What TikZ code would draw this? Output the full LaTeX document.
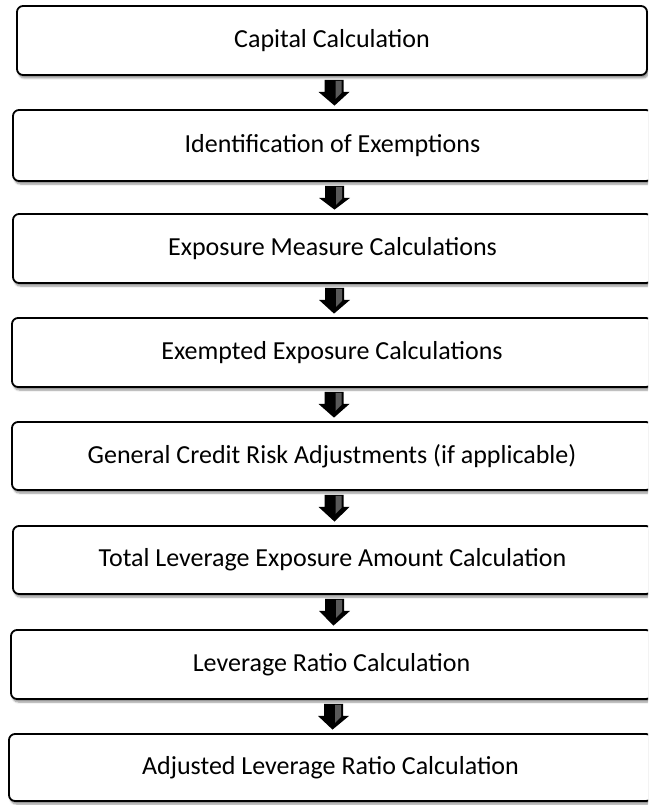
\documentclass[tikz,border=0pt]{standalone}
\usepackage{fontspec}
\setmainfont{Carlito}
\usetikzlibrary{calc,shadows.blur}
\tikzset{
  stepbox/.style={draw=black, line width=1.8pt, rounded corners=6pt, fill=white,
    blur shadow={shadow xshift=1.5pt, shadow yshift=-3pt, shadow blur steps=6, shadow opacity=45},
    inner sep=0pt, font=\fontsize{26}{31}\selectfont, text=black},
  flowarrow/.style={fill=black},
  arrowshine/.style={fill=gray!60, opacity=0.5}
}
\newcommand{\blockarrow}[2]{%
  \coordinate (#1t) at ($(#1.south)+(2,4)$);
  \coordinate (#2t) at ($(#2.north)+(2,-3.5)$);
  \path[flowarrow] ($(#1t)+(-9.5,0)$) -- ($(#1t)+(9.5,0)$) -- ($(#1t)+(9.5,12)$) -- ($(#1t)+(15.5,12)$) -- (#2t) -- ($(#1t)+(-15.5,12)$) -- ($(#1t)+(-9.5,12)$) -- cycle;
  \path[arrowshine] ($(#1t)+(1.5,1)$) -- ($(#1t)+(7.5,1)$) -- ($(#1t)+(7.5,13)$) -- ($(#1t)+(1.5,19)$) -- cycle;
}
\begin{document}
\begin{tikzpicture}[x=1pt,y=-1pt]
\useasboundingbox (0,0) rectangle (648,805);
\clip (0,0) rectangle (648,805);
\node[stepbox, minimum width=630pt, minimum height=69pt] (b1) at (332,40.5) {Capital Calculation};
\node[stepbox, minimum width=639pt, minimum height=71pt] (b2) at (332.5,145.5) {Identification of Exemptions};
\node[stepbox, minimum width=639pt, minimum height=69pt] (b3) at (332.5,248.5) {Exposure Measure Calculations};
\node[stepbox, minimum width=640pt, minimum height=69pt] (b4) at (332,352.5) {Exempted Exposure Calculations};
\node[stepbox, minimum width=640pt, minimum height=68pt] (b5) at (332,456) {General Credit Risk Adjustments (if applicable)};
\node[stepbox, minimum width=639pt, minimum height=68pt] (b6) at (332.5,560) {Total Leverage Exposure Amount Calculation};
\node[stepbox, minimum width=641pt, minimum height=69pt] (b7) at (331.5,664.5) {Leverage Ratio Calculation};
\node[stepbox, minimum width=643pt, minimum height=67pt] (b8) at (330.5,767.5) {Adjusted Leverage Ratio Calculation};
\blockarrow{b1}{b2}
\blockarrow{b2}{b3}
\blockarrow{b3}{b4}
\blockarrow{b4}{b5}
\blockarrow{b5}{b6}
\blockarrow{b6}{b7}
\blockarrow{b7}{b8}
\end{tikzpicture}
\end{document}
